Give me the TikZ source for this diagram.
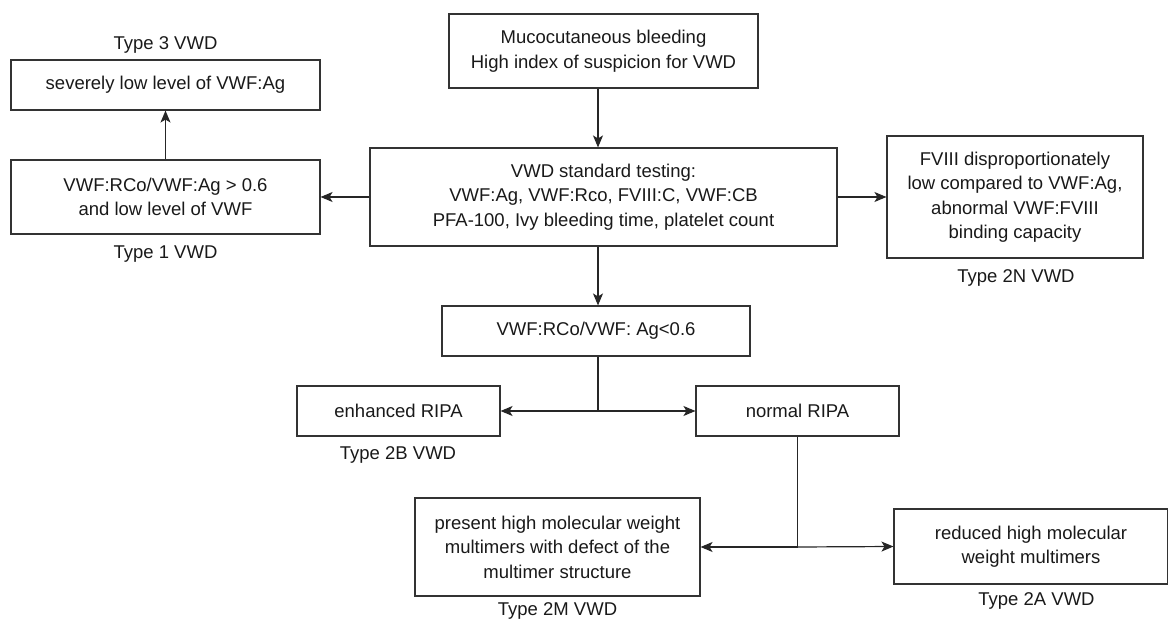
\documentclass[tikz,border=0pt]{standalone}
\usepackage{fontspec}
\setmainfont{Liberation Sans}
\usetikzlibrary{arrows.meta,shapes}

\begin{document}
\begin{tikzpicture}[x=1pt, y=-1pt, align=center,
    >={Stealth[length=12pt, width=10pt, inset=3pt]},
    font=\fontsize{18.5}{24.5}\selectfont,
    box/.style={draw=black!80, line width=1.1pt, inner sep=0pt, text=black!90},
    tag/.style={text=black!90, anchor=base}]
    \useasboundingbox (0,0) rectangle (1168,620);
    % top of the chart
    \node(muco)    [box, minimum width=309pt, minimum height=74pt]  at (603.5,51)  {Mucocutaneous bleeding\\High index of suspicion for VWD};
    \node(test)    [box, minimum width=467pt, minimum height=98pt]  at (603.5,197) {VWD standard testing:\\VWF:Ag, VWF:Rco, FVIII:C, VWF:CB\\PFA-100, Ivy bleeding time, platelet count};
    
    % left side
    \node(type1)   [box, minimum width=309pt, minimum height=74pt]  at (165.5,197) {VWF:RCo/VWF:Ag > 0.6\\and low level of VWF};
    \node(type3)   [box, minimum width=309pt, minimum height=50pt]  at (165.5,85)  {severely low level of VWF:Ag};
    
    % right side
    \node(fviii)   [box, minimum width=256pt, minimum height=122pt] at (1015,197)  {FVIII disproportionately\\low compared to VWF:Ag,\\abnormal VWF:FVIII\\binding capacity};
    
    % ratio branch
    \node(ratio)   [box, minimum width=308pt, minimum height=50pt]  at (596,331)   {VWF:RCo/VWF: Ag<0.6};
    \node(enh)     [box, minimum width=203pt, minimum height=50pt]  at (398.5,411) {enhanced RIPA};
    \node(normal)  [box, minimum width=203pt, minimum height=50pt]  at (797.5,411) {normal RIPA};
    
    % multimers
    \node(multi)   [box, minimum width=285pt, minimum height=98pt]  at (557.5,547) {present high molecular weight\\multimers with defect of the\\multimer structure};
    \node(reduced) [box, minimum width=274pt, minimum height=75pt]  at (1031,546.5) {reduced high molecular\\weight multimers};
    
    % type labels
    \node(lab3)  [tag] at (165.5,49.5) {Type 3 VWD};
    \node(lab1)  [tag] at (165.5,259)  {Type 1 VWD};
    \node(lab2n) [tag] at (1016,283)   {Type 2N VWD};
    \node(lab2b) [tag] at (398,459)    {Type 2B VWD};
    \node(lab2m) [tag] at (557.5,615)  {Type 2M VWD};
    \node(lab2a) [tag] at (1036.5,605) {Type 2A VWD};
    
    \coordinate(split1) at (598,411);
    \coordinate(split2) at (797.5,547);
    
    % arrows
    \draw [->][draw=black!85, line width=1.2pt] (muco.south -| split1) to (test.north -| split1);
    \draw [->][draw=black!85, line width=1.2pt] (test.south -| split1) to (ratio.north -| split1);
    \draw [->][draw=black!85, line width=1.2pt] (test.west) to (type1.east);
    \draw [->][draw=black!85, line width=1.2pt] (test.east) to (fviii.west);
    \draw [->][draw=black!85, line width=1.2pt] (type1.north) to (type3.south);
    
    % first split
    \draw [draw=black!85, line width=1.2pt] (ratio.south -| split1) to (split1);
    \draw [->][draw=black!85, line width=1.2pt] (split1) to (enh.east);
    \draw [->][draw=black!85, line width=1.2pt] (split1) to (normal.west);
    
    % second split
    \draw [draw=black!85, line width=1.2pt] (normal.south) to (split2);
    \draw [->][draw=black!85, line width=1.2pt] (split2) to (multi.east);
    \draw [->][draw=black!85, line width=1.2pt] (split2) to (reduced.west);
\end{tikzpicture}
\end{document}
